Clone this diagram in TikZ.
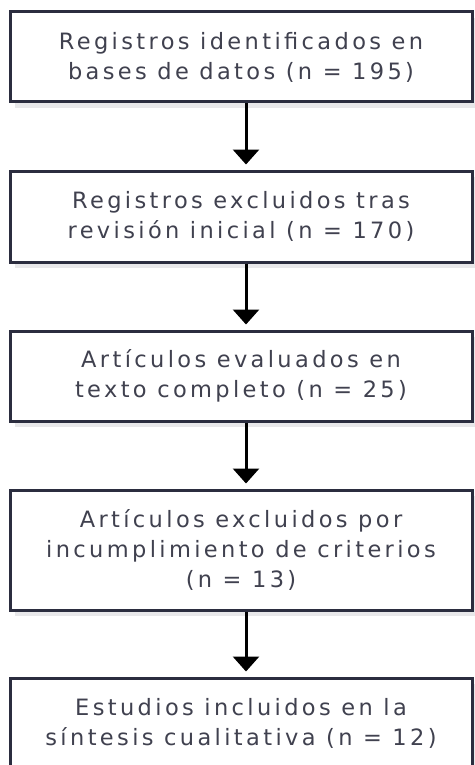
\documentclass[tikz,border=0pt]{standalone}
\usepackage{fontspec}
\setmainfont{DejaVu Sans}[LetterSpace=15]
\usetikzlibrary{arrows.meta,shadows}
\definecolor{bord}{HTML}{2B2D3F}
\definecolor{txt}{HTML}{40414F}
\definecolor{shade}{HTML}{E8E8EA}
\begin{document}
\begin{tikzpicture}[x=1pt,y=1pt,
  box/.style={draw=bord, line width=3pt, fill=white, minimum width=462pt,
    align=center, text=txt, font=\fontsize{22.5}{30}\selectfont, inner sep=0pt,
    drop shadow={shadow xshift=5pt, shadow yshift=-6pt, fill=shade, opacity=1}},
  arr/.style={line width=3pt, draw=black, -{Triangle[width=26pt,length=15pt]}, shorten >=5pt}]
\useasboundingbox (0,0) rectangle (474,-765);
\node[box, minimum height=90pt] (b1) at (241,-57) {Registros identificados en\\bases de datos (n = 195)};
\node[box, minimum height=91pt] (b2) at (241,-216.5) {Registros excluidos tras\\revisión inicial (n = 170)};
\node[box, minimum height=90pt] (b3) at (241,-376) {Artículos evaluados en\\texto completo (n = 25)};
\node[box, minimum height=120pt] (b4) at (241,-550) {Artículos excluidos por\\incumplimiento de criterios\\(n = 13)};
\node[box, minimum height=90pt] (b5) at (241,-723) {Estudios incluidos en la\\síntesis cualitativa (n = 12)};
\draw[arr] ([xshift=5pt]b1.south) -- ([xshift=5pt]b2.north);
\draw[arr] ([xshift=5pt]b2.south) -- ([xshift=5pt]b3.north);
\draw[arr] ([xshift=5pt]b3.south) -- ([xshift=5pt]b4.north);
\draw[arr] ([xshift=5pt]b4.south) -- ([xshift=5pt]b5.north);
\end{tikzpicture}
\end{document}
